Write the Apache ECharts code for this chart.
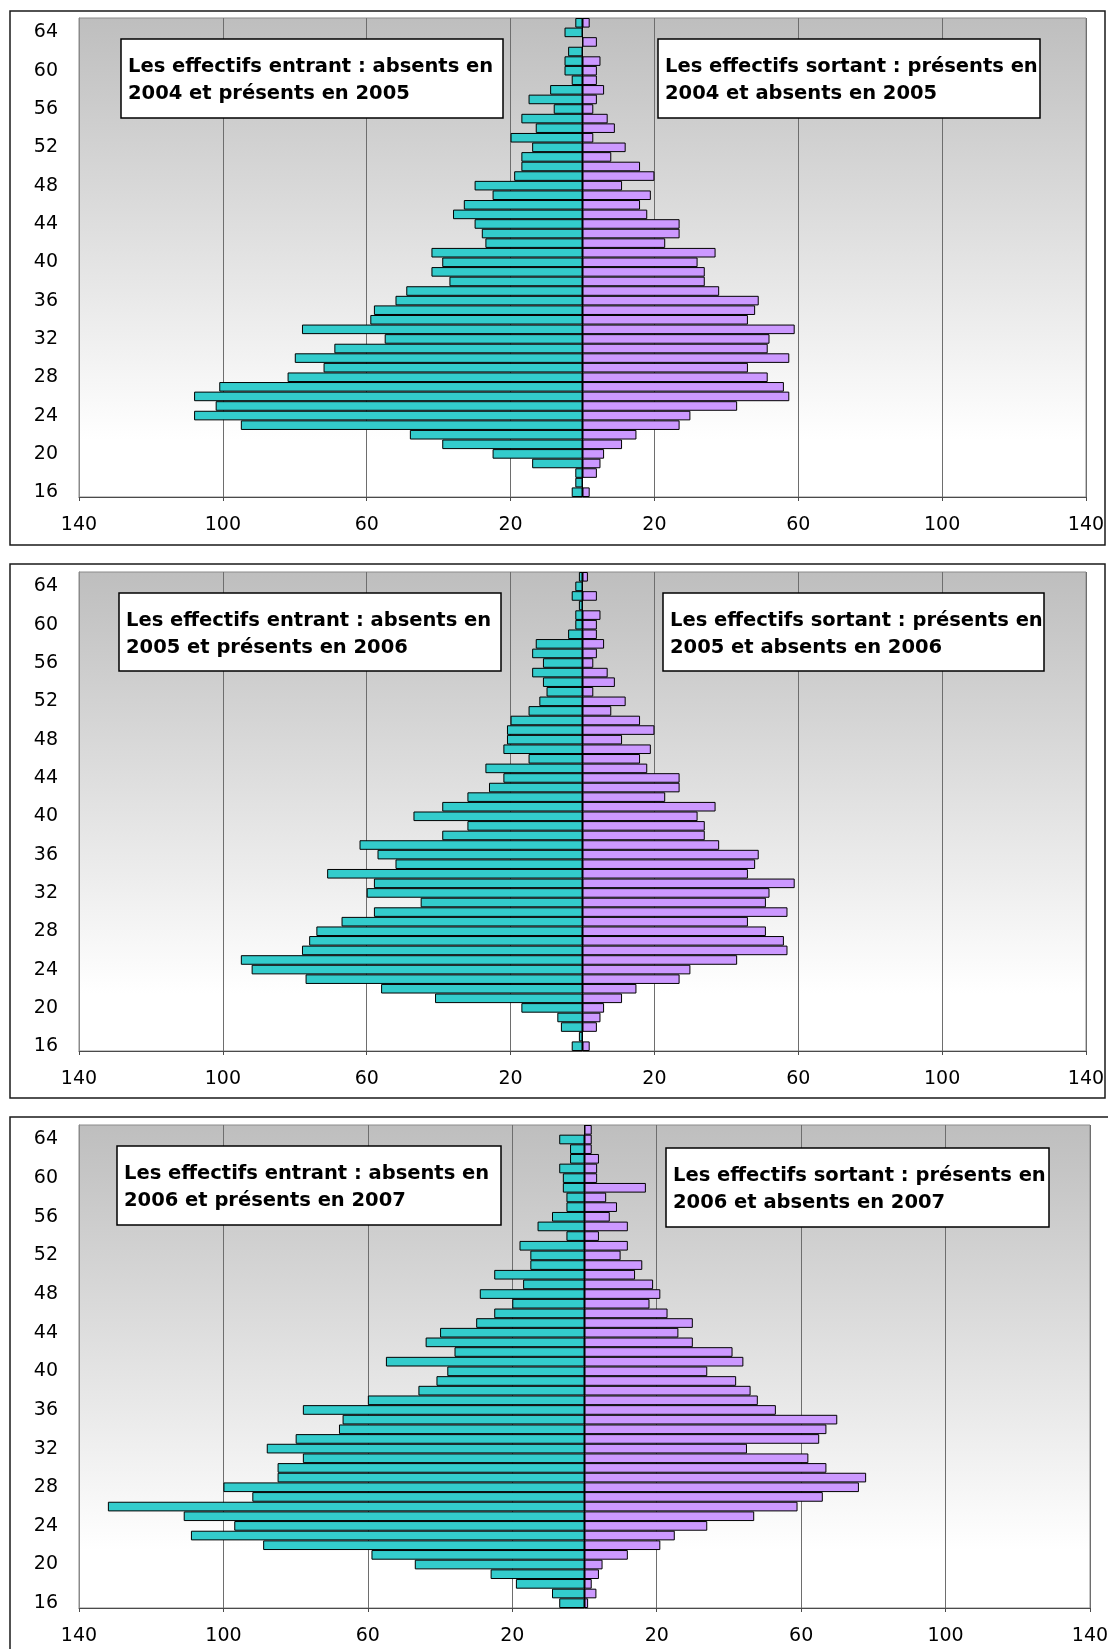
<!DOCTYPE html>
<html><head><meta charset="utf-8">
<script src="https://cdn.jsdelivr.net/npm/echarts@6/dist/echarts.min.js"></script>
<style>html,body{margin:0;padding:0;background:#fff;}#c{width:1108px;height:1649px;}</style>
</head><body><div id="c"></div>
<script>
// Age categories (bottom to top)
const ages = ['16','17','18','19','20','21','22','23','24','25','26','27','28','29','30','31','32','33','34','35','36','37','38','39','40','41','42','43','44','45','46','47','48','49','50','51','52','53','54','55','56','57','58','59','60','61','62','63','64','65'];

// Panel 1: 2004 -> 2005
const entrant2005 = [3,2,2,14,25,39,48,95,108,102,108,101,82,72,80,69,55,78,59,58,52,49,37,42,39,42,27,28,30,36,33,25,30,19,17,17,14,20,13,17,8,15,9,3,5,5,4,0,5,2];
const sortant2005 = [2,0,4,5,6,11,15,27,30,43,57.5,56,51.5,46,57.5,51.5,52,59,46,48,49,38,34,34,32,37,23,27,27,18,16,19,11,20,16,8,12,3,9,7,3,4,6,4,4,5,0,4,0,2];

// Panel 2: 2005 -> 2006
const entrant2006 = [3,1,6,7,17,41,56,77,92,95,78,76,74,67,58,45,60,58,71,52,57,62,39,32,47,39,32,26,22,27,15,22,21,21,20,15,12,10,11,14,11,14,13,4,2,2,1,3,2,1];
const sortant2006 = [2,0,4,5,6,11,15,27,30,43,57,56,51,46,57,51,52,59,46,48,49,38,34,34,32,37,23,27,27,18,16,19,11,20,16,8,12,3,9,7,3,4,6,4,4,5,0,4,0,1.5];

// Panel 3: 2006 -> 2007
const entrant2007 = [7,9,19,26,47,59,89,109,97,111,132,92,100,85,85,78,88,80,68,67,78,60,46,41,38,55,36,44,40,30,25,20,29,17,25,15,15,18,5,13,9,5,5,6,6,7,4,4,7,0];
const sortant2007 = [1,3.3,2,4,5,12,21,25,34,47,59,66,76,78,67,62,45,65,67,70,53,48,46,42,34,44,41,30,26,30,23,18,21,19,14,16,10,12,4,12,7,9,6,17,3.5,3.5,4,2,2,2];

const xTicks = {min: -140, max: 140, step: 40};

const panels = [
  {entrant: entrant2005, sortant: sortant2005,
   leftText: 'Les effectifs entrant : absents en\n2004 et présents en 2005',
   rightText: 'Les effectifs sortant : présents en\n2004 et absents en 2005'},
  {entrant: entrant2006, sortant: sortant2006,
   leftText: 'Les effectifs entrant : absents en\n2005 et présents en 2006',
   rightText: 'Les effectifs sortant : présents en\n2005 et absents en 2006'},
  {entrant: entrant2007, sortant: sortant2007,
   leftText: 'Les effectifs entrant : absents en\n2006 et présents en 2007',
   rightText: 'Les effectifs sortant : présents en\n2006 et absents en 2007'}
];

const gridPos = [
  {left: 79, top: 18, width: 1007, height: 479},
  {left: 79, top: 572, width: 1007, height: 479},
  {left: 79, top: 1125, width: 1011, height: 483}
];
const frames = [
  {x: 10, y: 11, w: 1095, h: 534},
  {x: 10, y: 564, w: 1095, h: 534},
  {x: 10, y: 1117, w: 1110, h: 560}
];
const boxes = [
  [{x: 121, y: 39, w: 382, h: 79}, {x: 658, y: 39, w: 382, h: 79}],
  [{x: 119, y: 593, w: 382, h: 78}, {x: 663, y: 593, w: 381, h: 78}],
  [{x: 117, y: 1146, w: 384, h: 79}, {x: 666, y: 1148, w: 383, h: 79}]
];

const FONT = 'DejaVu Sans';
const bg = {type: 'linear', x: 0, y: 0, x2: 0, y2: 1, colorStops: [
  {offset: 0, color: '#bebebe'}, {offset: 0.88, color: '#ffffff'}, {offset: 1, color: '#ffffff'}]};

const grid = [], xAxis = [], yAxis = [], series = [], graphic = [];
panels.forEach((p, i) => {
  grid.push(Object.assign({show: true, backgroundColor: bg, borderColor: '#8a8a8a', borderWidth: 1,
    containLabel: false, outerBoundsMode: 'none'}, gridPos[i]));
  xAxis.push({type: 'value', gridIndex: i, min: xTicks.min, max: xTicks.max, interval: xTicks.step,
    axisLine: {show: true, onZero: false, lineStyle: {color: '#4a4a4a', width: 1}},
    axisTick: {show: true, inside: false, length: 4, lineStyle: {color: '#4a4a4a'}},
    axisLabel: {formatter: v => String(Math.abs(v)), color: '#000', fontSize: 19, fontFamily: FONT, margin: 19},
    splitLine: {show: true, lineStyle: {color: '#6e6e6e', width: 1}}});
  yAxis.push({type: 'category', gridIndex: i, data: ages, boundaryGap: true,
    axisLine: {show: true, onZero: false, lineStyle: {color: '#8a8a8a'}},
    axisTick: {show: false},
    axisLabel: {interval: 3, color: '#000', fontSize: 19, fontFamily: FONT, margin: 21},
    splitLine: {show: false}});
  series.push({type: 'bar', xAxisIndex: i, yAxisIndex: i, silent: true,
    data: p.entrant.map(v => -v), barGap: '-100%', barCategoryGap: '0%',
    itemStyle: {color: '#33CCCC', borderColor: '#000', borderWidth: 1}});
  series.push({type: 'bar', xAxisIndex: i, yAxisIndex: i, silent: true,
    data: p.sortant, barGap: '-100%', barCategoryGap: '0%',
    itemStyle: {color: '#CC99FF', borderColor: '#000', borderWidth: 1},
    markLine: {silent: true, symbol: 'none', label: {show: false},
      lineStyle: {color: '#000', width: 1, type: 'solid'}, data: [{xAxis: 0}]}});
  const f = frames[i];
  graphic.push({type: 'rect', z: 100, shape: {x: f.x, y: f.y, width: f.w, height: f.h},
    style: {fill: 'none', stroke: '#1a1a1a', lineWidth: 1.5}});
  [p.leftText, p.rightText].forEach((t, j) => {
    const b = boxes[i][j];
    graphic.push({type: 'rect', z: 100, shape: {x: b.x, y: b.y, width: b.w, height: b.h},
      style: {fill: '#fff', stroke: '#000', lineWidth: 1.5}});
    graphic.push({type: 'text', z: 101, x: b.x + 7, y: b.y + 14,
      style: {text: t, font: 'bold 19.5px "' + FONT + '"', fill: '#000', lineHeight: 27, verticalAlign: 'top'}});
  });
});

const chart = echarts.init(document.getElementById('c'), null, {renderer: 'canvas'});
chart.setOption({animation: false, backgroundColor: '#fff', grid, xAxis, yAxis, series, graphic});
</script>
</body></html>
